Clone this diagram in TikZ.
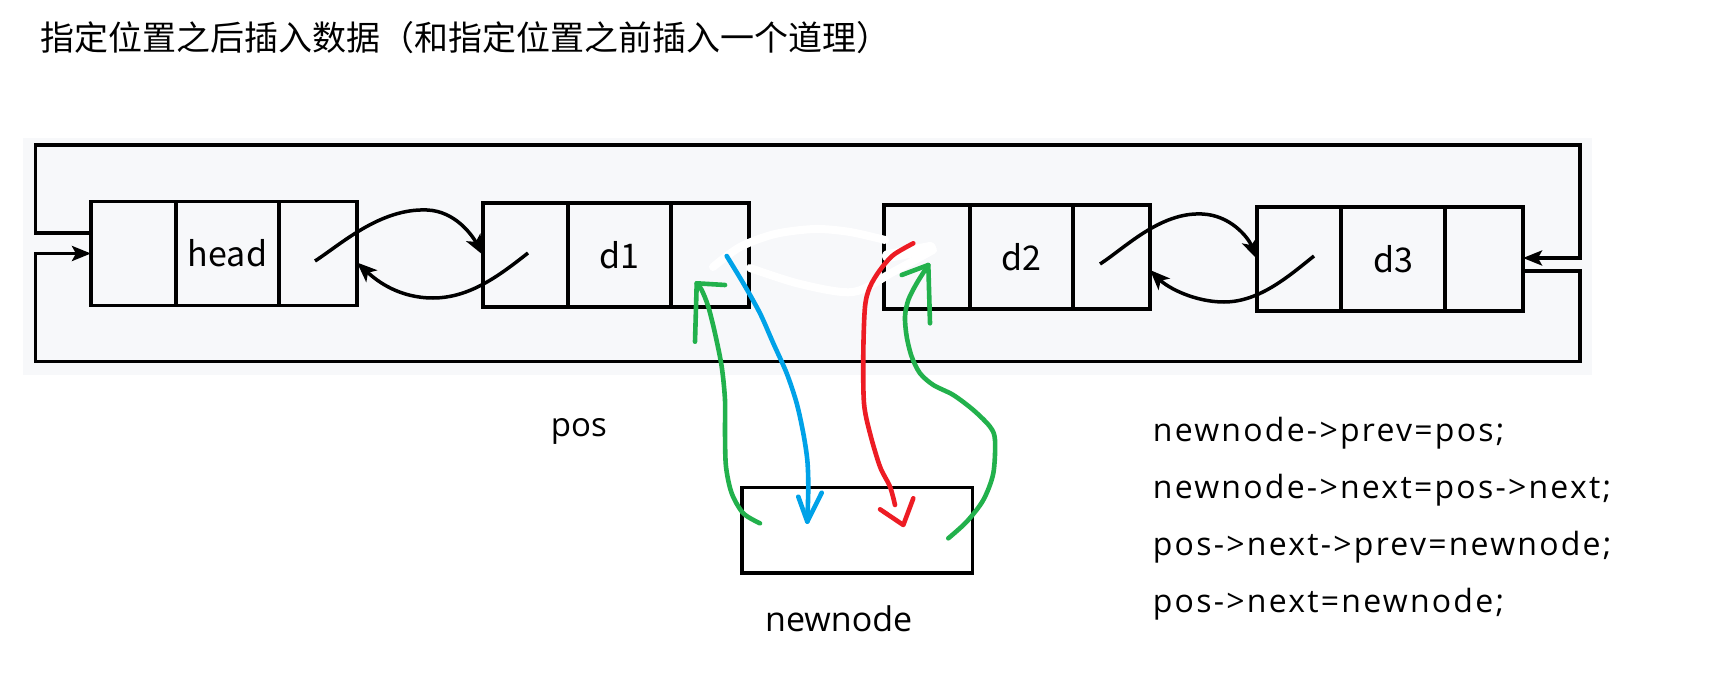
\documentclass[tikz,border=0pt]{standalone}
\usepackage{fontspec}
\setmainfont{Open Sans}
\newfontfamily\cjkfont{Noto Sans CJK SC}
\newfontfamily\codefont[LetterSpace=7]{Open Sans}
\usetikzlibrary{arrows.meta}
\definecolor{panel}{RGB}{247,248,250}
\definecolor{pblue}{RGB}{0,162,232}
\definecolor{pred}{RGB}{237,28,36}
\definecolor{pgreen}{RGB}{34,177,76}
\tikzset{
  cell/.style={draw, line width=3.5pt, minimum height=104pt, inner sep=0pt, outer sep=0pt,
    font=\cjkfont\fontsize{34}{40}\selectfont},
  link/.style={line width=3.5pt, -{Stealth[length=20pt,width=16pt,inset=5pt]}},
  ring/.style={line width=3.5pt, line join=miter, -{Stealth[length=19pt,width=15pt,inset=4pt]}},
  pen/.style={line width=4.6pt, line cap=round, line join=round},
  eraser/.style={white, line width=8pt, line cap=round, line join=round},
  label/.style={inner sep=0pt, anchor=base west, font=\fontsize{33}{40}\selectfont},
  code/.style={inner sep=0pt, anchor=base west, font=\codefont\fontsize{32}{40}\selectfont}
}
\begin{document}
\begin{tikzpicture}[x=1pt,y=-1pt]
\useasboundingbox (0,0) rectangle (1726,676);
\fill[white] (0,0) rectangle (1726,676);
% title
\node[inner sep=0pt, anchor=base west, font=\cjkfont\fontsize{34}{40}\selectfont] (title) at (40,50.6)
  {指定位置之后插入数据（和指定位置之前插入一个道理）};
% grey panel
\fill[panel] (23,138) rectangle (1592,375);
% head
\node[cell, minimum width=85pt] (h1) at (133.5,253.5) {};
\node[cell, minimum width=103pt] (h2) at (227.5,253.5) {head};
\node[cell, minimum width=78pt] (h3) at (318,253.5) {};
% d1
\node[cell, minimum width=85pt] (d1a) at (525.5,255) {};
\node[cell, minimum width=103pt] (d1b) at (619.5,255) {d1};
\node[cell, minimum width=78pt] (d1c) at (710,255) {};
% d2
\node[cell, minimum width=86pt] (d2a) at (927,257) {};
\node[cell, minimum width=103pt] (d2b) at (1021.5,257) {d2};
\node[cell, minimum width=77pt] (d2c) at (1111.5,257) {};
% d3
\node[cell, minimum width=84pt] (d3a) at (1299,259) {};
\node[cell, minimum width=104pt] (d3b) at (1393,259) {d3};
\node[cell, minimum width=78pt] (d3c) at (1484,259) {};
% outer ring
\draw[ring] ([yshift=20.7pt]h1.west) -- (35.7,232.8) |- (1580,145) |- ([yshift=1pt]d3c.east);
\draw[ring] ([yshift=-12pt]d3c.east) -- (1580,271) |- (35.7,361.7) |- (h1.west);
% curved links
\coordinate (s1) at (315,261);
\coordinate (s2) at (528,253);
\coordinate (s3) at (1100,264);
\coordinate (s4) at (1314,256);
\draw[link] (s1) .. controls (340,245) and (380,208) .. (427,210) .. controls (455,211) and (472,235) .. (d1a.west);
\draw[link] (s2) .. controls (500,275) and (470,298) .. (433,298) .. controls (400,298) and (378,282) .. ([yshift=-9pt]h3.east);
\draw[link] (s3) .. controls (1125,248) and (1160,212) .. (1202,214) .. controls (1230,215) and (1248,237) .. (d3a.west);
\draw[link] (s4) .. controls (1290,275) and (1260,302) .. (1224,302) .. controls (1195,302) and (1168,288) .. ([yshift=-13pt]d2c.east);
% eraser strokes
\draw[eraser] plot[smooth] coordinates {(713,267) (740,247) (775,234) (815,229) (850,232) (885,240)};
\draw[eraser] plot[smooth] coordinates {(750,268) (800,284) (853,292) (893,272) (933,250)};
\draw[eraser, line width=12pt] (888,256) -- (930,248);
% new node
\node[draw, line width=3.5pt, minimum width=230.7pt, minimum height=85.3pt, inner sep=0pt] (nn) at (857.3,530.3) {};
% labels
\node[label] (pos) at (550.7,436.7) {pos};
\node[label, font=\fontsize{34}{40}\selectfont] (nnl) at (765,631.7) {newnode};
\node[code] (c1) at (1152.7,441) {newnode->prev=pos;};
\node[code] (c2) at (1152.7,498) {newnode->next=pos->next;};
\node[code] (c3) at (1152.7,555) {pos->next->prev=newnode;};
\node[code] (c4) at (1152.7,612) {pos->next=newnode;};
% hand-drawn arrows
\draw[pen, pblue] plot[smooth] coordinates {(726.7,256) (743.3,283.3) (760,313.3) (773.3,343.3) (786.7,373.3) (796.7,403.3) (803.3,433.3) (807.3,460) (808.3,486.7) (807.3,521.7)};
\draw[pen, pblue] (798.3,496.7) -- (807.3,521.7) -- (821.7,492.7);
\draw[pen, pred] plot[smooth] coordinates {(913.3,243.3) (893.3,255) (880,270) (870,286.7) (865,306.7) (863.3,353.3) (864,403.3) (870,433.3) (880,466.7) (890,486.7) (895,505)};
\draw[pen, pred] (880,509.3) -- (903.3,525) -- (913.3,498.3);
\draw[pen, pgreen] plot[smooth] coordinates {(760,523.3) (743.3,513.3) (731.7,493.3) (726,466.7) (725,433.3) (725,400) (721.7,366.7) (715,333.3) (708.3,306.7) (701.7,290) (696.7,283.3)};
\draw[pen, pgreen] (725,285) -- (696.7,283.3) -- (695,341.7);
\draw[pen, pgreen] plot[smooth] coordinates {(948.3,538.3) (966.7,521.7) (983.3,500) (993.3,473.3) (995,440) (990,426.7) (973.3,410) (953.3,395) (933.3,385) (920,373.3) (911.7,356.7) (906.7,336.7) (905,316.7) (908.3,300) (916.7,283.3) (928.3,265)};
\draw[pen, pgreen] (901.7,275) -- (928.3,265) -- (930,323.3);
\end{tikzpicture}
\end{document}
